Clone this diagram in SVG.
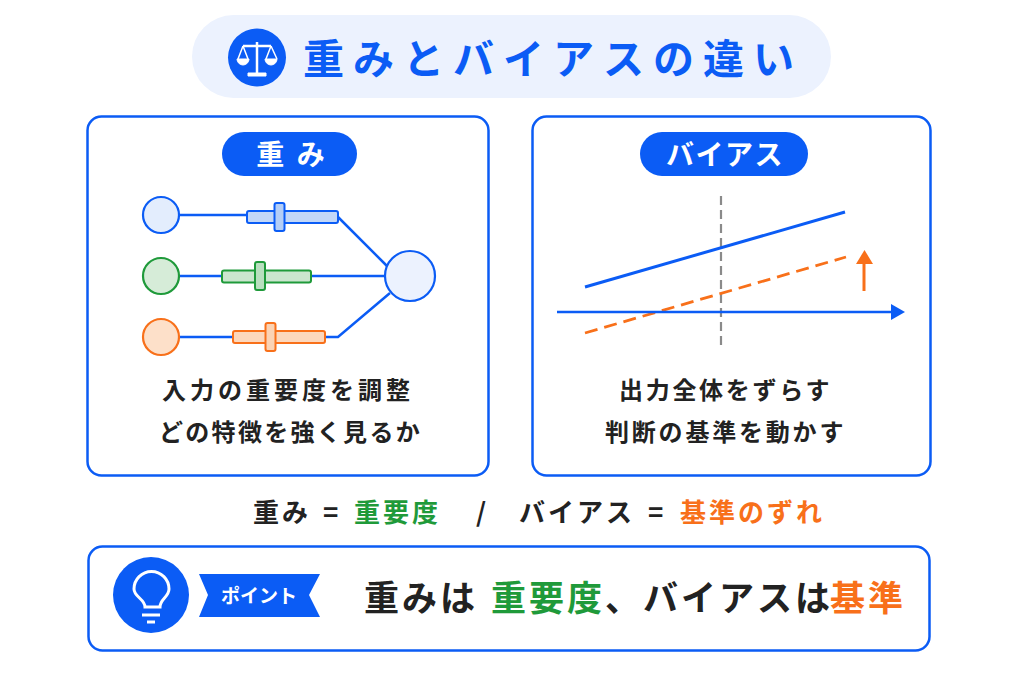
<svg xmlns="http://www.w3.org/2000/svg" width="1024" height="683" viewBox="0 0 1024 683">
<style>
text{font-family:"Noto Sans CJK JP","Noto Sans",sans-serif;font-weight:700}
.card{fill:#fff;stroke:#0b5cf5;stroke-width:2.5}
.blue{fill:#0b5cf5}.wh{fill:#fff}
.g{fill:#1f9a3a}.o{fill:#f8701a}.k{fill:#222}
.c{text-anchor:middle}
.ln{fill:none;stroke:#0b5cf5;stroke-width:2.5}
</style>
<rect width="1024" height="683" fill="#fff"/>
<g id="title">
<rect x="192" y="15" width="639" height="83" rx="41.5" fill="#ecf2fe"/>
<circle cx="257" cy="57.500" r="29" class="blue"/>
<g fill="none" stroke="#fff">
<path d="M257 42V73M243 46H271" stroke-width="2.500"/>
<path d="M243 46L238 59M243 46L248 59M271 46L266 59M271 46L277 59" stroke-width="1.500"/>
</g>
<path d="M237 59H249A6 6 0 0 1 237 59ZM265 59H277A6 6 0 0 1 265 59ZM248 76H266V73H248Z" fill="#fff" stroke="#fff" stroke-width="1"/>
<text x="303" y="74" font-size="41" letter-spacing="9" fill="#0b5cf5">重みとバイアスの違い</text>
</g>
<g id="weight-card">
<rect class="card" x="87.500" y="116.500" width="401" height="359" rx="14"/>
<rect x="222" y="132" width="135" height="44" rx="22" class="blue"/>
<text x="292" y="165" font-size="28" class="c wh" letter-spacing="3">重 み</text>
</g>
<g id="bias-card">
<rect class="card" x="532.500" y="116.500" width="398" height="359" rx="14"/>
<rect x="640" y="132" width="168" height="44" rx="22" class="blue"/>
<text x="725" y="165" font-size="28" class="c wh" letter-spacing="1.500">バイアス</text>
</g>
<g id="connectors">
<path class="ln" d="M179 215H248M338 217L387 266M179 276H222M311 276H385M179 337H234M325 337H338L390 293"/>
<line x1="721" y1="196" x2="721" y2="350" stroke="#8a8a8a" stroke-width="2.200" stroke-dasharray="9 5"/>
<line x1="585" y1="287" x2="845" y2="212" stroke="#0b5cf5" stroke-width="3"/>
<line x1="585" y1="333" x2="846" y2="257" stroke="#f8701a" stroke-width="2.800" stroke-dasharray="13 7"/>
<line x1="557" y1="312" x2="893" y2="312" stroke="#0b5cf5" stroke-width="2.500"/>
<path d="M891 304L905 312L891 320Z" class="blue"/>
<line x1="864" y1="291" x2="864" y2="262" stroke="#f8701a" stroke-width="3"/>
<path d="M856 264L864.500 250L873 264Z" class="o"/>
</g>
<g id="input-1">
<circle cx="161" cy="215" r="18" fill="#e3edfd" stroke="#0b5cf5" stroke-width="2.200"/>
<rect x="247" y="211" width="91" height="12" rx="2" fill="#c2d7f8" stroke="#0b5cf5" stroke-width="2"/>
<rect x="274.500" y="203" width="10" height="28" rx="2" fill="#b4cef7" stroke="#0b5cf5" stroke-width="2"/>
</g>
<g id="input-2">
<circle cx="161" cy="276" r="18" fill="#d6ecd8" stroke="#1f9a3a" stroke-width="2.200"/>
<rect x="222" y="270.500" width="89" height="12" rx="2" fill="#cbe6ce" stroke="#1f9a3a" stroke-width="2"/>
<rect x="255" y="262" width="10" height="28" rx="2" fill="#b9dfbf" stroke="#1f9a3a" stroke-width="2"/>
</g>
<g id="input-3">
<circle cx="161" cy="337" r="18" fill="#fde0c9" stroke="#f8701a" stroke-width="2.200"/>
<rect x="233" y="331" width="92" height="12" rx="2" fill="#fcd8bd" stroke="#f8701a" stroke-width="2"/>
<rect x="265.500" y="323" width="10" height="28" rx="2" fill="#fbd3b4" stroke="#f8701a" stroke-width="2"/>
</g>
<g id="output">
<circle cx="410" cy="276" r="25" fill="#ecf2fe" stroke="#0b5cf5" stroke-width="2.200"/>
</g>
<g id="texts">
<text x="162" y="399" font-size="24" class="k" letter-spacing="4">入力の重要度を調整</text>
<text x="159" y="441" font-size="24" class="k" letter-spacing="2.300">どの特徴を強く見るか</text>
<text x="619" y="399" font-size="24" class="k" letter-spacing="2.700">出力全体をずらす</text>
<text x="605" y="441" font-size="24" class="k" letter-spacing="2.800">判断の基準を動かす</text>
<text y="522" font-size="26" class="k" letter-spacing="3"><tspan x="253">重み</tspan><tspan x="323">=</tspan><tspan x="354" class="g">重要度</tspan><tspan x="476">/</tspan><tspan x="519">バイアス</tspan><tspan x="648">=</tspan><tspan x="680" class="o">基準のずれ</tspan></text>
</g>
<g id="point">
<rect class="card" x="88.500" y="546.500" width="841" height="104" rx="14"/>
<circle cx="151" cy="595" r="38" class="blue"/>
<path d="M145 607C145 599 134 597 134 589A17.500 17.500 0 0 1 169 589C169 597 160 599 160 607Z" fill="none" stroke="#fff" stroke-width="3"/>
<path d="M142 615H160M147 622H155" stroke="#fff" stroke-width="3"/>
<path d="M199 574H320L309 595L320 617H199L208 595Z" class="blue"/>
<text x="259" y="603" font-size="19" class="c wh">ポイント</text>
<text y="611" font-size="35" class="k" letter-spacing="3"><tspan x="364">重みは</tspan><tspan x="491" class="g">重要度</tspan><tspan x="605">、</tspan><tspan x="643">バイアスは</tspan><tspan x="830" class="o">基準</tspan></text>
</g>
</svg>
